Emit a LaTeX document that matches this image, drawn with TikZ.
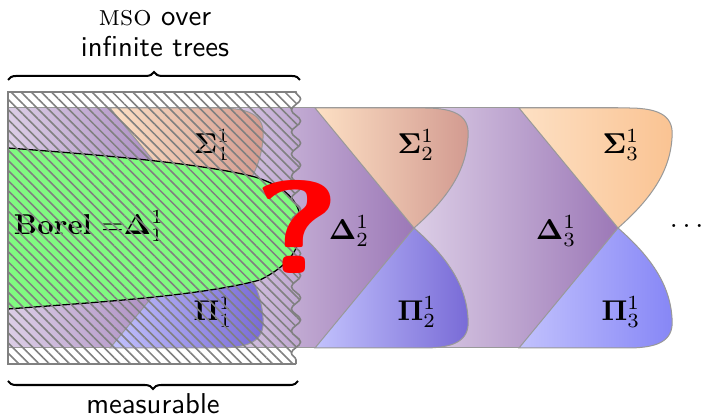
\documentclass[tikz,border=0pt]{standalone}
\usepackage{amsmath}
\usepackage{graphicx}
\usetikzlibrary{patterns.meta,decorations.pathreplacing,decorations.pathmorphing}
\definecolor{purpL}{RGB}{220,206,230}
\definecolor{purpR}{RGB}{156,120,183}
\definecolor{sigL}{RGB}{253,224,196}
\definecolor{sigRdark}{RGB}{210,154,144}
\definecolor{sigRlight}{RGB}{250,195,146}
\definecolor{piL}{RGB}{194,194,253}
\definecolor{piRdark}{RGB}{120,106,214}
\definecolor{piRlight}{RGB}{134,134,246}
\definecolor{borelgreen}{RGB}{128,250,128}
\definecolor{hatchgray}{RGB}{128,128,128}
\tikzset{
  purpshade/.style={left color=purpL, right color=purpR},
  bandedge/.style={draw=black!40, line width=0.35pt},
  sigshape/.style={left color=sigL, right color=#1, draw=black!40, line width=0.35pt},
  pishape/.style={left color=piL, right color=#1, draw=black!40, line width=0.35pt},
  borelshape/.style={fill=borelgreen, draw=black, line width=0.45pt},
  hatchshape/.style={pattern={Lines[angle=-45,distance=2.5pt,line width=0.55pt]}, pattern color=hatchgray, draw=hatchgray, line width=0.55pt},
  classlabel/.style={inner sep=1pt},
  bracestyle/.style={decorate, decoration={brace, amplitude=2.8pt}, line width=0.7pt},
  textlabel/.style={font=\sffamily, inner sep=1pt}
}
\begin{document}
\begin{tikzpicture}[x=0.3484pt,y=-0.3484pt]
\useasboundingbox (0,0) rectangle (705,416);
\fill[white] (0,0) rectangle (705,416);

% purple bands (Delta levels)
\foreach \c in {209,414,618}{
  \pgfmathsetmacro{\lft}{max(8,\c-205)}
  \path[purpshade] (\lft,108) rectangle (\c,348);
  \draw[bandedge] (\lft,108) -- (\c,108) (\lft,348) -- (\c,348);
}
% Sigma and Pi shapes
\foreach \c/\sr/\pr in {209/sigRdark/piRdark, 414/sigRdark/piRdark, 618/sigRlight/piRlight}{
  \path[sigshape=\sr] (\c-99,108) -- (\c+10,108) .. controls (\c+45,108) and (\c+56,118) .. (\c+54,138)
        .. controls (\c+52,172) and (\c+32,200) .. (\c,228) -- cycle;
  \path[pishape=\pr] (\c-99,348) -- (\c+10,348) .. controls (\c+45,348) and (\c+56,338) .. (\c+54,318)
        .. controls (\c+52,284) and (\c+32,256) .. (\c,228) -- cycle;
}

% Borel region
\path[borelshape] (8,148) .. controls (100,155) and (200,163) .. (255,177)
   .. controls (290,188) and (301,205) .. (301,225)
   .. controls (301,248) and (290,265) .. (260,280)
   .. controls (200,296) and (100,302) .. (8,309) -- cycle;

% level 1 labels
\node[classlabel] (s1) at (212,145) {$\mathbf{\Sigma}^1_1$};
\node[classlabel] (p1) at (213,312) {$\mathbf{\Pi}^1_1$};
\node[classlabel] (borel) at (89,226) {\textbf{Borel} ${=}\mathbf{\Delta}^1_1$};

% hatched MSO region
\path[hatchshape] (296,364) -- (8,364) -- (8,92) -- (296,92)
   decorate[decoration={snake,segment length=7.7pt,amplitude=1.6pt}]{ -- (296,364)};

% question mark
\node[text=red, font=\fontsize{46}{46}\selectfont\sffamily\bfseries, inner sep=0pt] (q) at (297,227) {\scalebox{1.3}[1]{?}};

% other labels
\node[classlabel] (s2) at (416,145) {$\mathbf{\Sigma}^1_2$};
\node[classlabel] (d2) at (349,231) {$\mathbf{\Delta}^1_2$};
\node[classlabel] (p2) at (417,312) {$\mathbf{\Pi}^1_2$};
\node[classlabel] (s3) at (621,145) {$\mathbf{\Sigma}^1_3$};
\node[classlabel] (d3) at (556,231) {$\mathbf{\Delta}^1_3$};
\node[classlabel] (p3) at (621,312) {$\mathbf{\Pi}^1_3$};
\node[classlabel] (dots) at (689,226) {$\dots$};

% braces
\coordinate (ta) at (8,80);
\coordinate (tb) at (300,80);
\coordinate (ba) at (298,381);
\coordinate (bb) at (8,381);
\draw[bracestyle] (ta) -- (tb);
\draw[bracestyle] (ba) -- (bb);
\node[textlabel] (mso1) at (155,18) {\textrm{\textsc{mso}} over};
\node[textlabel] (mso2) at (155,47) {infinite trees};
\node[textlabel] (meas) at (153,404) {measurable};
\end{tikzpicture}
\end{document}
